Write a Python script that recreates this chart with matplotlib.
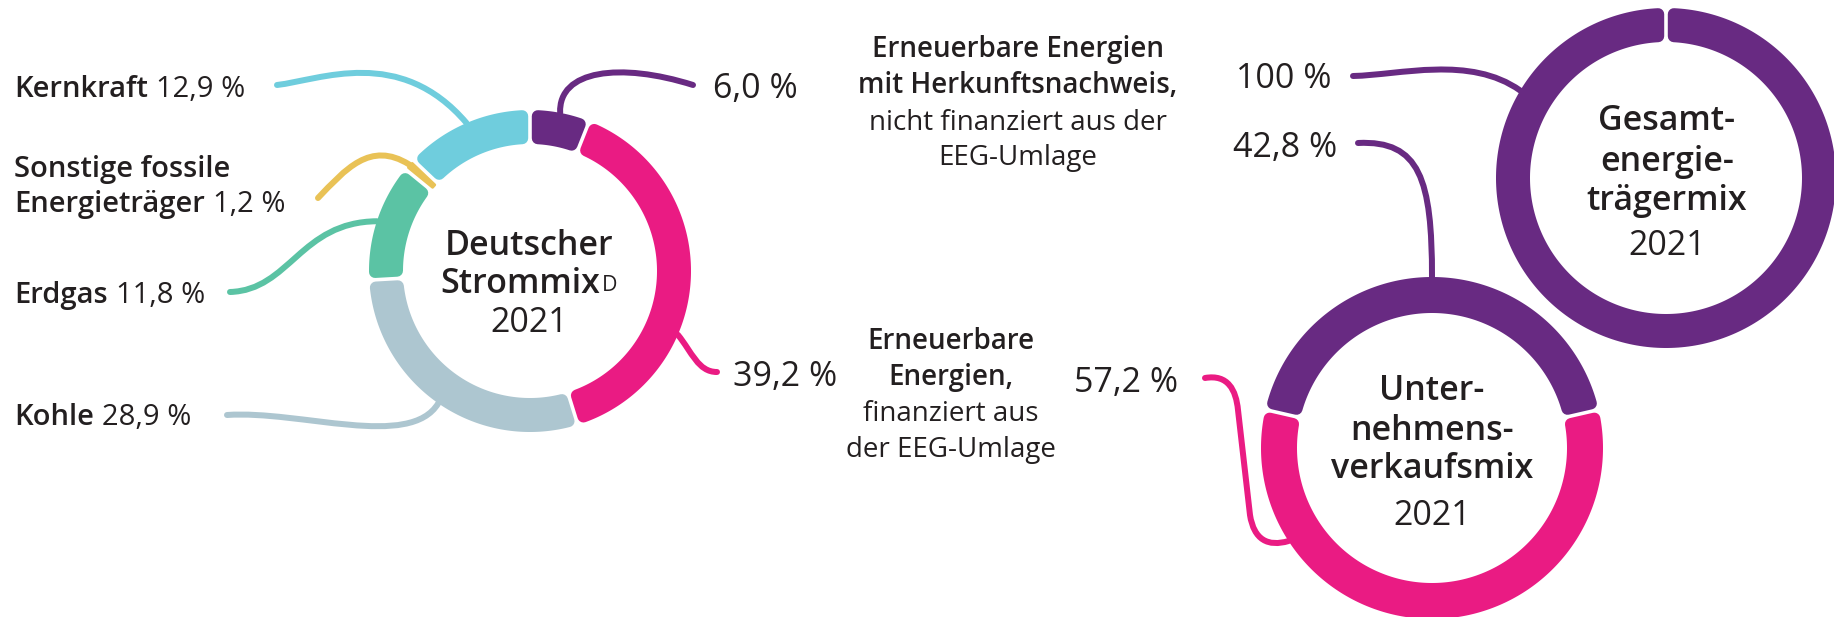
import numpy as np
import matplotlib.pyplot as plt
from matplotlib.patches import Polygon, PathPatch
from matplotlib.path import Path

plt.rcParams['font.family'] = ['Open Sans', 'DejaVu Sans']

# Deutscher Strommix 2021, clockwise from 12 o'clock
strom_labels = ['Erneuerbare mit HKN', 'Erneuerbare EEG', 'Kohle', 'Erdgas',
                'Sonstige fossile Energieträger', 'Kernkraft']
strom_values = [6.0, 39.2, 28.9, 11.8, 1.2, 12.9]
strom_colors = ['#682a82', '#ea1b83', '#adc6d0', '#5bc3a4', '#e9c256', '#6fcddd']

# Unternehmensverkaufsmix 2021 (purple part centred on top)
verkauf_values = [42.8, 57.2]
verkauf_colors = ['#682a82', '#ea1b83']

# Gesamtenergieträgermix 2021
gesamt_values = [100.0]
gesamt_colors = ['#682a82']

TXT = '#231f20'
BOLD = 'semibold'
DPI = 100
PX = 72.0 / DPI  # points per pixel


def ring(ax, center, values, colors, r_out, r_in, start=90.0, gap=1.8, corner=6.0):
    cx, cy = center
    edges = start - 360.0 * np.concatenate([[0], np.cumsum(values)]) / sum(values)
    spans = []
    for a, b, col in zip(edges[:-1], edges[1:], colors):
        half = min(np.radians(a - b) / 2, np.pi / 2)
        c = min(corner, 0.45 * (r_in * np.sin(half) - gap))
        d = gap + c
        ro, ri = r_out - c, r_in + c
        ao = np.degrees(np.arcsin(d / ro))
        ai = np.degrees(np.arcsin(d / ri))
        t_out = np.radians(np.linspace(a - ao, b + ao, 300))
        t_in = np.radians(np.linspace(b + ai, a - ai, 300))
        xs = np.concatenate([cx + ro * np.cos(t_out), cx + ri * np.cos(t_in)])
        ys = np.concatenate([cy - ro * np.sin(t_out), cy - ri * np.sin(t_in)])
        ax.add_patch(Polygon(np.column_stack([xs, ys]), closed=True, fc=col, ec=col,
                             lw=2 * c * PX, joinstyle='round', zorder=3))
        spans.append((a, b))
    return spans


def attach(center, r, span, frac=0.5):
    a, b = span
    t = np.radians(a + (b - a) * frac)
    return (center[0] + r * np.cos(t), center[1] - r * np.sin(t))


def connector(ax, pts, codes, color):
    ax.add_patch(PathPatch(Path(pts, codes), fc='none', ec=color, lw=6 * PX,
                           capstyle='round', joinstyle='round', zorder=2))


C4 = [Path.MOVETO, Path.CURVE4, Path.CURVE4, Path.CURVE4]

fig = plt.figure(figsize=(1834 / DPI, 617 / DPI), dpi=DPI)
ax = fig.add_axes([0, 0, 1, 1])
ax.set_xlim(0, 1834)
ax.set_ylim(617, 0)
ax.axis('off')
renderer = fig.canvas.get_renderer()


def right_edge(t):
    return t.get_window_extent(renderer).transformed(ax.transData.inverted()).x1


def label(x, y, bold, regular, size):
    t = ax.text(x, y, bold, fontsize=size, fontweight=BOLD, color=TXT, va='baseline')
    if regular:
        ax.text(right_edge(t) + 8, y, regular, fontsize=size, color=TXT, va='baseline')
    return t


def block(x, lines, size):
    for txt, yb, w in lines:
        ax.text(x, yb, txt, fontsize=size, fontweight=w, color=TXT, ha='center', va='baseline')


# ---- Deutscher Strommix ----
c1 = (530, 271)
R1, r1 = 161, 127
sp = ring(ax, c1, strom_values, strom_colors, R1, r1)

p = attach(c1, R1, sp[0])
connector(ax, [p, (p[0] - 2, 70), (620, 62), (693, 85)], C4, strom_colors[0])
p = attach(c1, R1, sp[1], 0.65)
connector(ax, [p, (692, 352), (698, 372), (717, 372)], C4, strom_colors[1])
p = attach(c1, R1, sp[2])
connector(ax, [(227, 415), (300, 410), (410, 450), p], C4, strom_colors[2])
p = attach(c1, R1, sp[3])
connector(ax, [(230, 292), (290, 290), (300, 222), p], C4, strom_colors[3])
p = attach(c1, R1, sp[4])
connector(ax, [(318, 198), (345, 170), (370, 140), p], C4, strom_colors[4])
p = attach(c1, R1, sp[5])
connector(ax, [(277, 85), (320, 80), (400, 45), p], C4, strom_colors[5])

fs_lab = 21
label(14, 97, 'Kernkraft', '12,9 %', fs_lab)
label(14, 177, 'Sonstige fossile', '', fs_lab)
label(14, 212, 'Energieträger', '1,2 %', fs_lab)
label(14, 303, 'Erdgas', '11,8 %', fs_lab)
label(14, 425, 'Kohle', '28,9 %', fs_lab)

fs_big = 24.5
ax.text(529, 255, 'Deutscher', fontsize=fs_big, fontweight=BOLD, color=TXT, ha='center', va='baseline')
st = ax.text(520, 293, 'Strommix', fontsize=fs_big, fontweight=BOLD, color=TXT, ha='center', va='baseline')
ax.text(right_edge(st) + 2, 291, 'D', fontsize=15.5, color=TXT, va='baseline')
ax.text(529, 332, '2021', fontsize=fs_big, color=TXT, ha='center', va='baseline')

ax.text(713, 98, '6,0 %', fontsize=fs_big, color=TXT, va='baseline')
ax.text(733, 386, '39,2 %', fontsize=fs_big, color=TXT, va='baseline')

# ---- text blocks in the middle ----
fs_mid = 20
block(1018, [('Erneuerbare Energien', 57, BOLD), ('mit Herkunftsnachweis,', 93, BOLD),
             ('nicht finanziert aus der', 130, 'normal'), ('EEG-Umlage', 165, 'normal')], fs_mid)
block(951, [('Erneuerbare', 349, BOLD), ('Energien,', 385, BOLD),
            ('finanziert aus', 421, 'normal'), ('der EEG-Umlage', 457, 'normal')], fs_mid)

# ---- Gesamtenergieträgermix ----
c3 = (1666, 178)
sp3 = ring(ax, c3, gesamt_values, gesamt_colors, 170, 136)
p = attach(c3, 170, sp3[0], 0.836)
connector(ax, [(1353, 76), (1400, 75), (1470, 55), p], C4, gesamt_colors[0])
ax.text(1332, 88, '100 %', fontsize=fs_big, color=TXT, ha='right', va='baseline')
block(1667, [('Gesamt-', 130, BOLD), ('energie-', 171, BOLD),
             ('trägermix', 210, BOLD), ('2021', 255, 'normal')], fs_big)

# ---- Unternehmensverkaufsmix ----
c2 = (1432, 448)
start2 = 90 + 360 * verkauf_values[0] / 100 / 2
sp2 = ring(ax, c2, verkauf_values, verkauf_colors, 171, 135, start=start2)
p = attach(c2, 171, sp2[0])
connector(ax, [(1358, 143), (1420, 140), (p[0], 180), p], C4, verkauf_colors[0])
ax.text(1337, 157, '42,8 %', fontsize=fs_big, color=TXT, ha='right', va='baseline')
p = attach(c2, 171, sp2[1], 0.777)
connector(ax, [(1205, 378), (1228, 374), (1236, 390), (1238, 410), (1250, 515),
               (1254, 540), (1268, 547), p],
          [Path.MOVETO, Path.CURVE4, Path.CURVE4, Path.CURVE4, Path.LINETO,
           Path.CURVE4, Path.CURVE4, Path.CURVE4], verkauf_colors[1])
ax.text(1074, 392, '57,2 %', fontsize=fs_big, color=TXT, va='baseline')
block(1432, [('Unter-', 400, BOLD), ('nehmens-', 440, BOLD),
             ('verkaufsmix', 478, BOLD), ('2021', 525, 'normal')], fs_big)

fig.savefig('out.png', dpi=DPI, facecolor='white')
